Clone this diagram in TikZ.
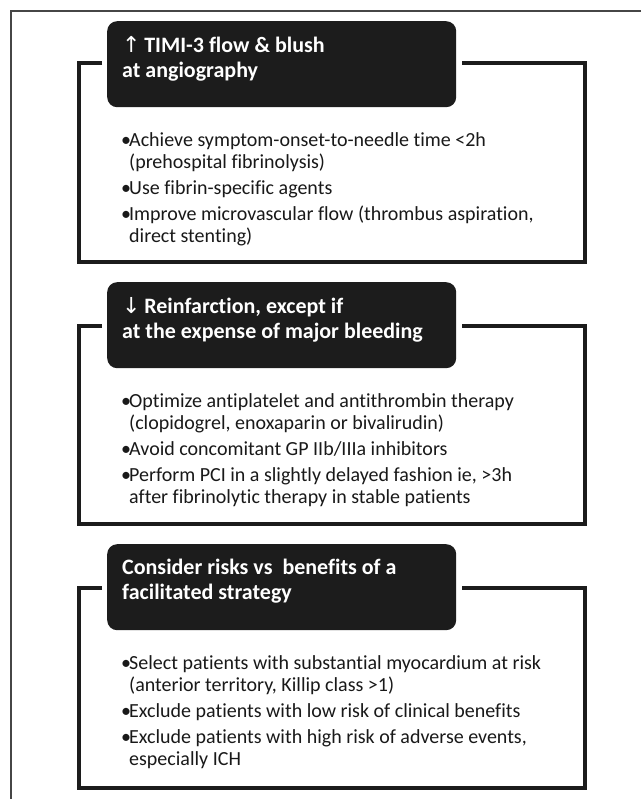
\documentclass[tikz,border=0pt]{standalone}
\usepackage{fontspec}
\setmainfont{Carlito}[Ligatures=NoCommon]
\newfontfamily\arrowfont{DejaVu Sans}
\usepackage{tikz}
\usetikzlibrary{positioning}
\definecolor{headblack}{RGB}{28,28,28}
\definecolor{rulegray}{RGB}{70,70,70}

% bullet and hanging indent for the lists
\newcommand{\itm}{\makebox[8pt][l]{\textbullet}}
\newcommand{\hang}{\hspace*{8pt}}

\tikzset{
    headbox/.style={fill=headblack, rounded corners=10pt, inner sep=0pt,
                    minimum width=349pt, minimum height=86pt},
    headtext/.style={text=white, inner sep=0pt, align=left,
                     font=\fontsize{22pt}{25pt}\selectfont\bfseries},
    bodytext/.style={inner sep=0pt, align=left, text=black!90,
                     font=\fontsize{20pt}{22pt}\selectfont},
    boxline/.style={draw=headblack, line width=4pt},
    frameline/.style={draw=rulegray, line width=1.3pt}
}

\begin{document}
\begin{tikzpicture}[x=1pt, y=-1pt]
    \useasboundingbox (0,0) rectangle (641,799);
    \fill[white] (0,0) rectangle (641,799);

    % outer frame
    \draw[frameline] (641,11) -- (11,11) -- (11,799);

    % box 1
    \draw[boxline] (102,63) -| (79,262) -| (585,63) -- (462,63);
    \node[headbox, anchor=north west] (head1) at (107,21) {};
    \node[headtext, below right=15pt and 15pt of head1.north west] (title1)
        {{\arrowfont\mdseries\char"2191}\,TIMI-3 flow \& blush\\at angiography};
    \node[bodytext, below right=25pt and 14pt of head1.south west] (body1) {%
        \itm Achieve symptom-onset-to-needle time <2h\\
        \hang(prehospital fibrinolysis)\\[4pt]
        \itm Use fibrin-specific agents\\[4pt]
        \itm Improve microvascular flow (thrombus aspiration,\\
        \hang direct stenting)};

    % box 2
    \draw[boxline] (102,326) -| (79,524) -| (585,326) -- (462,326);
    \node[headbox, anchor=north west] (head2) at (107,282) {};
    \node[headtext, below right=15pt and 15pt of head2.north west] (title2)
        {{\arrowfont\mdseries\char"2193}\,Reinfarction, except if\\at the expense of major bleeding};
    \node[bodytext, below right=25pt and 14pt of head2.south west] (body2) {%
        \itm Optimize antiplatelet and antithrombin therapy\\
        \hang(clopidogrel, enoxaparin or bivalirudin)\\[4pt]
        \itm Avoid concomitant GP IIb/IIIa inhibitors\\[4pt]
        \itm Perform PCI in a slightly delayed fashion ie, >3h\\
        \hang after fibrinolytic therapy in stable patients};

    % box 3
    \draw[boxline] (102,588) -| (79,788) -| (585,588) -- (462,588);
    \node[headbox, anchor=north west] (head3) at (107,544) {};
    \node[headtext, below right=15pt and 15pt of head3.north west] (title3)
        {Consider risks vs\ \ benefits of a\\facilitated strategy};
    \node[bodytext, below right=25pt and 14pt of head3.south west] (body3) {%
        \itm Select patients with substantial myocardium at risk\\
        \hang(anterior territory, Killip class >1)\\[4pt]
        \itm Exclude patients with low risk of clinical benefits\\[4pt]
        \itm Exclude patients with high risk of adverse events,\\
        \hang especially ICH};
\end{tikzpicture}
\end{document}
